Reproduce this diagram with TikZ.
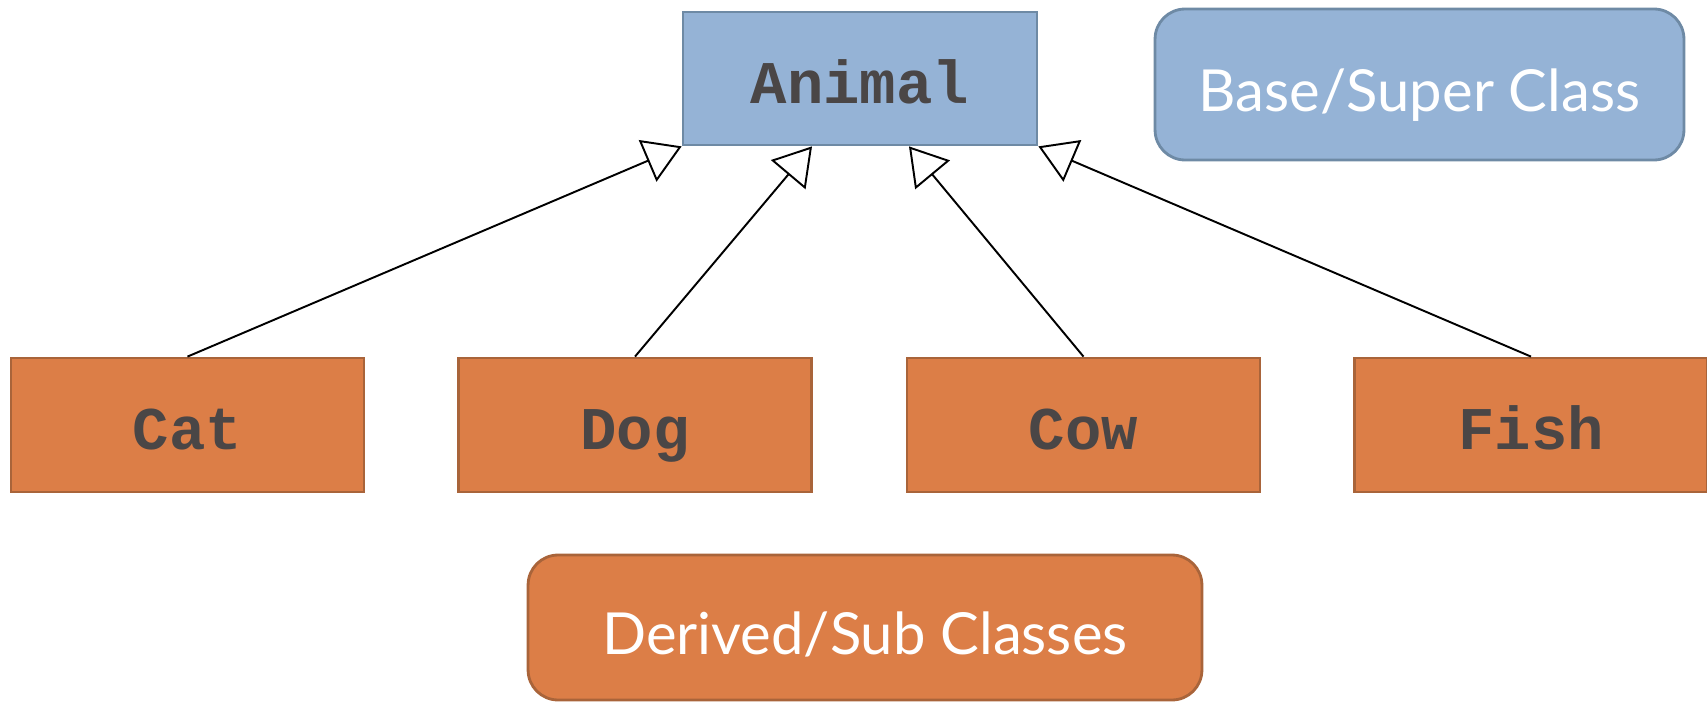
\documentclass[tikz,border=0pt]{standalone}
\usepackage{fontspec}
\setmainfont{Lato}
\setmonofont{Liberation Mono}
\usetikzlibrary{arrows.meta}
\definecolor{baseblue}{HTML}{95B3D6}
\definecolor{baseedge}{HTML}{6E8AA5}
\definecolor{suborange}{HTML}{DC7E47}
\definecolor{subedge}{HTML}{A9643A}
\definecolor{codegray}{HTML}{4A4646}
\tikzset{
  classbox/.style={rectangle, draw, line width=1.6pt, inner sep=0pt,
    text height=28pt, text depth=0pt,
    font=\fontsize{34.5}{40}\selectfont\ttfamily\bfseries, text=codegray},
  superbox/.style={classbox, fill=baseblue, draw=baseedge},
  subbox/.style={classbox, fill=suborange, draw=subedge,
    minimum width=7.06cm, minimum height=2.68cm},
  legend/.style={rectangle, rounded corners=0.6cm, draw, line width=1.6pt,
    inner sep=0pt, text height=31pt, text depth=0pt,
    text=white, font=\fontsize{33}{40}\selectfont},
  inherits/.style={line width=1.1pt, draw=black,
    -{Triangle[open, length=0.74cm, width=0.9cm]}}
}
\begin{document}
\begin{tikzpicture}[x=0.02cm, y=-0.02cm]
  \useasboundingbox (0,0) rectangle (1707,703);

  % base class
  \node[superbox, minimum width=7.08cm, minimum height=2.66cm] (animal) at (860,78.5) {Animal};

  % derived classes
  \node[subbox] (cat)  at (187.5,425) {Cat};
  \node[subbox] (dog)  at (635,425)   {Dog};
  \node[subbox] (cow)  at (1083.5,425) {Cow};
  \node[subbox] (fish) at (1531,425)  {Fish};

  % legend boxes
  \node[legend, fill=baseblue, draw=baseedge, minimum width=10.58cm, minimum height=3.02cm]
    (baselbl) at (1419.5,84.5) {Base/Super Class};
  \node[legend, fill=suborange, draw=subedge, minimum width=13.48cm, minimum height=2.9cm]
    (sublbl) at (865,627.5) {Derived/Sub Classes};

  % inheritance arrows
  \draw[inherits] (cat.north)  -- (animal.south west);
  \draw[inherits] (dog.north)  -- ([xshift=-0.96cm]animal.south);
  \draw[inherits] (cow.north)  -- ([xshift=0.98cm]animal.south);
  \draw[inherits] (fish.north) -- (animal.south east);
\end{tikzpicture}
\end{document}
